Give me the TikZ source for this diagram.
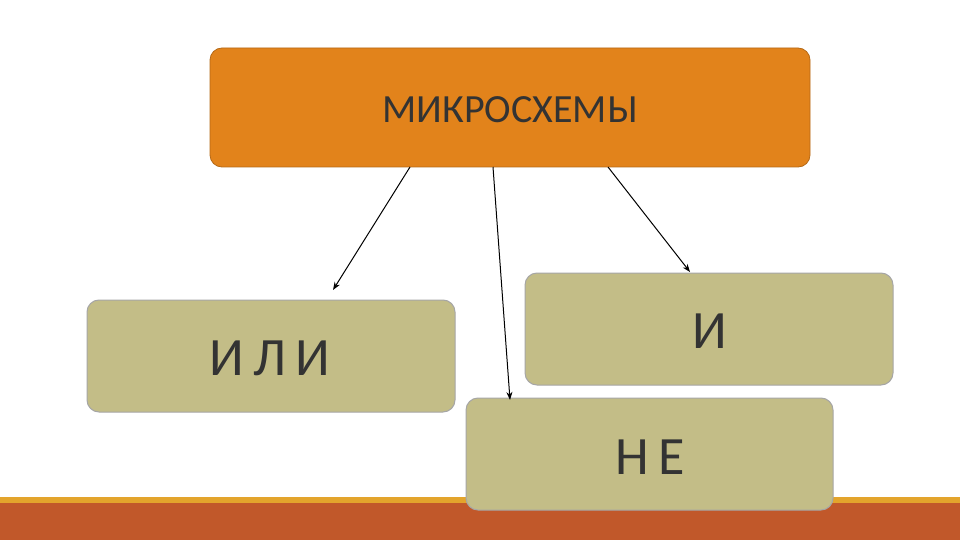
\documentclass[tikz,border=0pt]{standalone}
\usepackage{fontspec}
\setmainfont{Carlito}
\usetikzlibrary{arrows.meta}
\definecolor{orng}{HTML}{E2831B}
\definecolor{khaki}{HTML}{C3BD87}
\definecolor{rust}{HTML}{C1582A}
\definecolor{gold}{HTML}{E3A42C}
\begin{document}
\begin{tikzpicture}[x=1pt,y=-1pt,
  topbox/.style={draw=orng!80!black,line width=0.8pt,fill=orng,rounded corners=12pt},
  kbox/.style={draw=gray!70,line width=1pt,fill=khaki,rounded corners=12pt},
  arr/.style={-{Stealth[length=8pt,width=6pt]},line width=1pt},
  lbl/.style={text=black!80}]
\useasboundingbox (0,0) rectangle (960,540);
\fill[white] (0,0) rectangle (960,540);
\fill[gold] (0,497) rectangle (960,503);
\fill[rust] (0,503) rectangle (960,540);
\draw[topbox] (210,48) rectangle (810,167);
\node[lbl,font=\fontsize{40}{44}\selectfont] (top) at (510,110) {МИКРОСХЕМЫ};
\draw[kbox] (87,300) rectangle (455,412);
\node[lbl,font=\fontsize{54}{58}\selectfont] (ili) at (270,358) {И\,Л\,И};
\draw[kbox] (525,273) rectangle (893,385);
\node[lbl,font=\fontsize{54}{58}\selectfont] (i) at (710,331) {И};
\draw[kbox] (466,398) rectangle (833,510);
\node[lbl,font=\fontsize{54}{58}\selectfont] (ne) at (650,457) {Н\,Е};
\coordinate (a1) at (410,167); \coordinate (b1) at (333,290);
\coordinate (a2) at (493,167); \coordinate (b2) at (510,400);
\coordinate (a3) at (608,167); \coordinate (b3) at (690,272);
\draw[arr] (a1) -- (b1);
\draw[arr] (a2) -- (b2);
\draw[arr] (a3) -- (b3);
\end{tikzpicture}
\end{document}
